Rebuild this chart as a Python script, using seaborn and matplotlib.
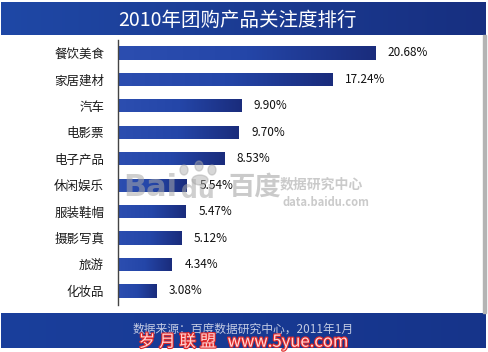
import matplotlib
matplotlib.use("Agg")
import matplotlib.pyplot as plt
import matplotlib.patheffects as pe
from matplotlib.colors import LinearSegmentedColormap
from matplotlib.patches import Rectangle, Ellipse
import seaborn as sns
import numpy as np
import pandas as pd

# data
categories = ["餐饮美食", "家居建材", "汽车", "电影票", "电子产品",
              "休闲娱乐", "服装鞋帽", "摄影写真", "旅游", "化妆品"]
values = [20.68, 17.24, 9.90, 9.70, 8.53, 5.54, 5.47, 5.12, 4.34, 3.08]
title = "2010年团购产品关注度排行"
source = "数据来源：百度数据研究中心，2011年1月"

df = pd.DataFrame({"category": categories, "value": values})

sns.set_theme(style="white")
plt.rcParams["font.family"] = ["Noto Sans CJK SC", "DejaVu Sans"]

W, H = 489, 352
fig = plt.figure(figsize=(W / 100, H / 100), dpi=100)
fig.patch.set_facecolor("white")


def fx(px):
    return px / W


def fy(py):
    return 1 - py / H


def band(x0, y0, x1, y1, c0, c1):
    # horizontal gradient band in pixel coords (top/bottom from top edge)
    bax = fig.add_axes([fx(x0), fy(y1), fx(x1 - x0), (y1 - y0) / H])
    cmap = LinearSegmentedColormap.from_list("g", [c0, c1])
    bax.imshow(np.linspace(0, 1, 256)[None, :], aspect="auto", cmap=cmap,
               extent=[0, 1, 0, 1])
    bax.set_axis_off()
    return bax


# title bar and footer bar
tax = band(1, 2, 486, 35, "#1f48a6", "#172f80")
tax.text(0.487, 0.45, title, color="white", fontsize=14, ha="center",
         va="center", transform=tax.transAxes)

fax = band(1, 313, 486, 348, "#1a3f9c", "#16348a")
fax.text(0.5, 0.55, source, color="#c3cbe3", fontsize=8.5, ha="center",
         va="center", transform=fax.transAxes)
fax.text(0.5, 0.18, "岁 月 联 盟   www.5yue.com", color="#ffd8d8",
         fontsize=12, ha="center", va="center", transform=fax.transAxes,
         path_effects=[pe.withStroke(linewidth=1.6, foreground="#e02828")])

# right gray border
fig.patches.append(Rectangle((fx(483), fy(313)), fx(3), (313 - 35) / H,
                             transform=fig.transFigure, color="#b4b4b4"))

# main chart
ax = fig.add_axes([fx(118), fy(305), fx(483 - 118), (305 - 40) / H])
sns.barplot(data=df, x="value", y="category", orient="h", color="#23409e",
            width=0.5, ax=ax)

xmax = (483 - 118) / 12.43
ax.set_xlim(0, xmax)
ax.set_ylim(9.53, -0.49)

# gradient fill clipped to each bar
cmap = LinearSegmentedColormap.from_list("bar", ["#2c4eb0", "#2446a8", "#1a2c7c"])
for p in ax.patches:
    x0, y0 = p.get_x(), p.get_y()
    im = ax.imshow(np.linspace(0, 1, 256)[None, :], aspect="auto", cmap=cmap,
                   extent=[x0, x0 + p.get_width(), y0 + p.get_height(), y0],
                   zorder=p.get_zorder() + 0.1)
    im.set_clip_path(p)
ax.set_xlim(0, xmax)
ax.set_ylim(9.53, -0.49)

for p, v in zip(ax.patches, values):
    ax.annotate(f"{v:.2f}%", (p.get_x() + p.get_width(), p.get_y() + p.get_height() / 2),
                xytext=(9, 0), textcoords="offset points", va="center",
                ha="left", fontsize=8.5, color="#111111")

ax.set_xlabel("")
ax.set_ylabel("")
ax.set_xticks([])
ax.tick_params(axis="y", length=0, pad=10, labelsize=9, labelcolor="#1a1a1a")
for s in ["top", "right", "bottom"]:
    ax.spines[s].set_visible(False)
ax.spines["left"].set_color("#444444")
ax.spines["left"].set_linewidth(1)
ax.set_facecolor("none")

# baidu watermark
wm = "#a8a8a8"
fig.text(fx(123), fy(188), "Bai", color=wm, alpha=0.55, fontsize=22,
         fontweight="bold", va="center", ha="left", family=["DejaVu Sans"])
fig.text(fx(181), fy(191), "du", color=wm, alpha=0.55, fontsize=17,
         fontweight="bold", va="center", ha="left", family=["DejaVu Sans"])
for cx, cy, w, h in [(184, 170, 8, 10), (199, 166, 8, 10), (212, 170, 8, 10), (200, 180, 16, 10)]:
    fig.patches.append(Ellipse((fx(cx), fy(cy)), w / W, h / H,
                               transform=fig.transFigure, color=wm, alpha=0.45))
fig.text(fx(228), fy(187), "百度", color=wm, alpha=0.6, fontsize=19,
         fontweight="bold", va="center", ha="left")
fig.text(fx(280), fy(184), "数据研究中心", color=wm, alpha=0.6, fontsize=10,
         fontweight="bold", va="center", ha="left")
fig.text(fx(283), fy(202), "data.baidu.com", color=wm, alpha=0.6, fontsize=8,
         fontweight="bold", va="center", ha="left")

fig.savefig("out.png", dpi=100)
